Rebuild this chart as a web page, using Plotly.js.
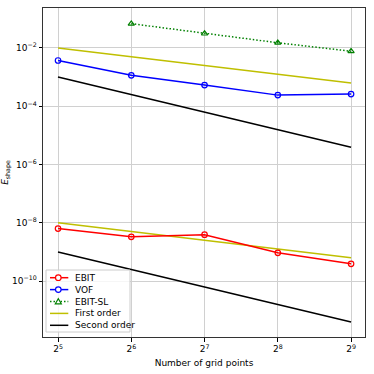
<!DOCTYPE html>
<html lang="en">
<head>
    <meta charset="UTF-8">
    <style>
        html, body, #plot {
            height: 100%;
            width: 100%;
            margin: 0;
            padding: 0;
            overflow: hidden;
            background: #fff;
        }
    </style>
</head>
<body>
<div id="plot"></div>
<script src="https://cdn.plot.ly/plotly-3.0.1.min.js"></script>
<script>
    // grid sizes 2^5 .. 2^9
    const gridPoints = [32, 64, 128, 256, 512];
    const xTickText = ['2<sup>5</sup>', '2<sup>6</sup>', '2<sup>7</sup>', '2<sup>8</sup>', '2<sup>9</sup>'];

    const ebit = [6.3e-9, 3.3e-9, 3.9e-9, 9.3e-10, 3.9e-10];
    const vof = [3.7e-3, 1.15e-3, 5.3e-4, 2.4e-4, 2.6e-4];
    const ebitSLPoints = [64, 128, 256, 512];
    const ebitSL = [6.8e-2, 3.1e-2, 1.5e-2, 7.7e-3];

    // reference slopes
    const firstUpper = [1e-2, 5e-3, 2.5e-3, 1.25e-3, 6.25e-4];
    const secondUpper = [1e-3, 2.5e-4, 6.25e-5, 1.5625e-5, 3.90625e-6];
    const firstLower = [1e-8, 5e-9, 2.5e-9, 1.25e-9, 6.25e-10];
    const secondLower = [1e-9, 2.5e-10, 6.25e-11, 1.5625e-11, 3.90625e-12];

    const yTickVals = [1e-2, 1e-4, 1e-6, 1e-8, 1e-10];
    const yTickText = ['10<sup>\u22122</sup>', '10<sup>\u22124</sup>', '10<sup>\u22126</sup>', '10<sup>\u22128</sup>', '10<sup>\u221210</sup>'];

    const legendNames = ['EBIT', 'VOF', 'EBIT-SL', 'First order', 'Second order'];

    const font = {family: 'DejaVu Sans, sans-serif', size: 9, color: '#000'};

    const styles = [
        {color: '#ff0000', dash: 'solid', symbol: 'circle'},
        {color: '#0000ff', dash: 'solid', symbol: 'circle'},
        {color: '#008000', dash: '1.5px,2px', symbol: 'triangle'},
        {color: '#bfbf00', dash: 'solid', symbol: null},
        {color: '#000000', dash: 'solid', symbol: null}
    ];

    function series(x, y, s) {
        const t = {
            x: x, y: y, mode: s.symbol ? 'lines+markers' : 'lines', showlegend: false,
            line: {color: s.color, width: 1.5, dash: s.dash}
        };
        if (s.symbol) {
            t.marker = {symbol: s.symbol === 'circle' ? 'circle-open' : 'triangle-up-open',
                        size: 5.5, color: s.color, line: {width: 1.2}};
        }
        return t;
    }

    const traces = [
        series(gridPoints, firstUpper, styles[3]),
        series(gridPoints, secondUpper, styles[4]),
        series(gridPoints, firstLower, styles[3]),
        series(gridPoints, secondLower, styles[4]),
        series(gridPoints, ebit, styles[0]),
        series(gridPoints, vof, styles[1]),
        series(ebitSLPoints, ebitSL, styles[2])
    ];

    // matplotlib-style compact legend, built in paper coordinates
    const plotW = 322, plotH = 329;
    const lg = {left: 3, right: 87, top: 67, bottom: 5, row0: 59.3, rowStep: 11.9,
                lineX0: 7, lineX1: 25.3, markX: 15.3, textX: 30.3};
    const px = v => v / plotW;
    const py = v => v / plotH;

    const shapes = [{
        type: 'rect', xref: 'paper', yref: 'paper',
        x0: px(lg.left), x1: px(lg.right), y0: py(lg.bottom), y1: py(lg.top),
        fillcolor: 'rgba(255,255,255,0.8)', line: {color: '#cccccc', width: 1}
    }];
    const annotations = [];

    legendNames.forEach((name, i) => {
        const s = styles[i];
        const yy = py(lg.row0 - i * lg.rowStep);
        shapes.push({
            type: 'line', xref: 'paper', yref: 'paper',
            x0: px(lg.lineX0), x1: px(lg.lineX1), y0: yy, y1: yy,
            line: {color: s.color, width: 1.5, dash: s.dash}
        });
        if (s.symbol === 'circle') {
            shapes.push({
                type: 'circle', xref: 'paper', yref: 'paper',
                xsizemode: 'pixel', ysizemode: 'pixel',
                xanchor: px(lg.markX), yanchor: yy,
                x0: -2.8, x1: 2.8, y0: -2.8, y1: 2.8,
                fillcolor: '#fff', line: {color: s.color, width: 1.2}
            });
        } else if (s.symbol === 'triangle') {
            shapes.push({
                type: 'path', xref: 'paper', yref: 'paper',
                xsizemode: 'pixel', ysizemode: 'pixel',
                xanchor: px(lg.markX), yanchor: yy,
                path: 'M -3,-2.3 L 3,-2.3 L 0,2.8 Z',
                fillcolor: '#fff', line: {color: s.color, width: 1.2}
            });
        }
        annotations.push({
            xref: 'paper', yref: 'paper', x: px(lg.textX), y: yy,
            xanchor: 'left', yanchor: 'middle', showarrow: false,
            text: name, font: font
        });
    });

    const layout = {
        width: 374,
        height: 374,
        margin: {l: 43, r: 9, t: 8, b: 37, pad: 0},
        paper_bgcolor: '#fff',
        plot_bgcolor: '#fff',
        font: font,
        xaxis: {
            type: 'log',
            range: [1.4434, 2.7665],
            tickmode: 'array',
            tickvals: gridPoints,
            ticktext: xTickText,
            ticks: 'outside',
            ticklen: 3.5,
            tickcolor: '#000',
            showgrid: true,
            gridcolor: '#d0d0d0',
            gridwidth: 1,
            showline: true,
            mirror: true,
            linecolor: '#333',
            linewidth: 1,
            zeroline: false,
            tickfont: font,
            title: {text: 'Number of grid points', font: font, standoff: 6}
        },
        yaxis: {
            type: 'log',
            range: [-11.92, -0.63],
            tickmode: 'array',
            tickvals: yTickVals,
            ticktext: yTickText,
            ticks: 'outside',
            ticklen: 3.5,
            tickcolor: '#000',
            showgrid: true,
            gridcolor: '#d0d0d0',
            gridwidth: 1,
            showline: true,
            mirror: true,
            linecolor: '#333',
            linewidth: 1,
            zeroline: false,
            tickfont: font,
            title: {text: '<i>E</i><sub>shape</sub>', font: font, standoff: 6}
        },
        showlegend: false,
        shapes: shapes,
        annotations: annotations
    };

    Plotly.newPlot('plot', traces, layout, {displayModeBar: false, staticPlot: true});
</script>
</body>
</html>
